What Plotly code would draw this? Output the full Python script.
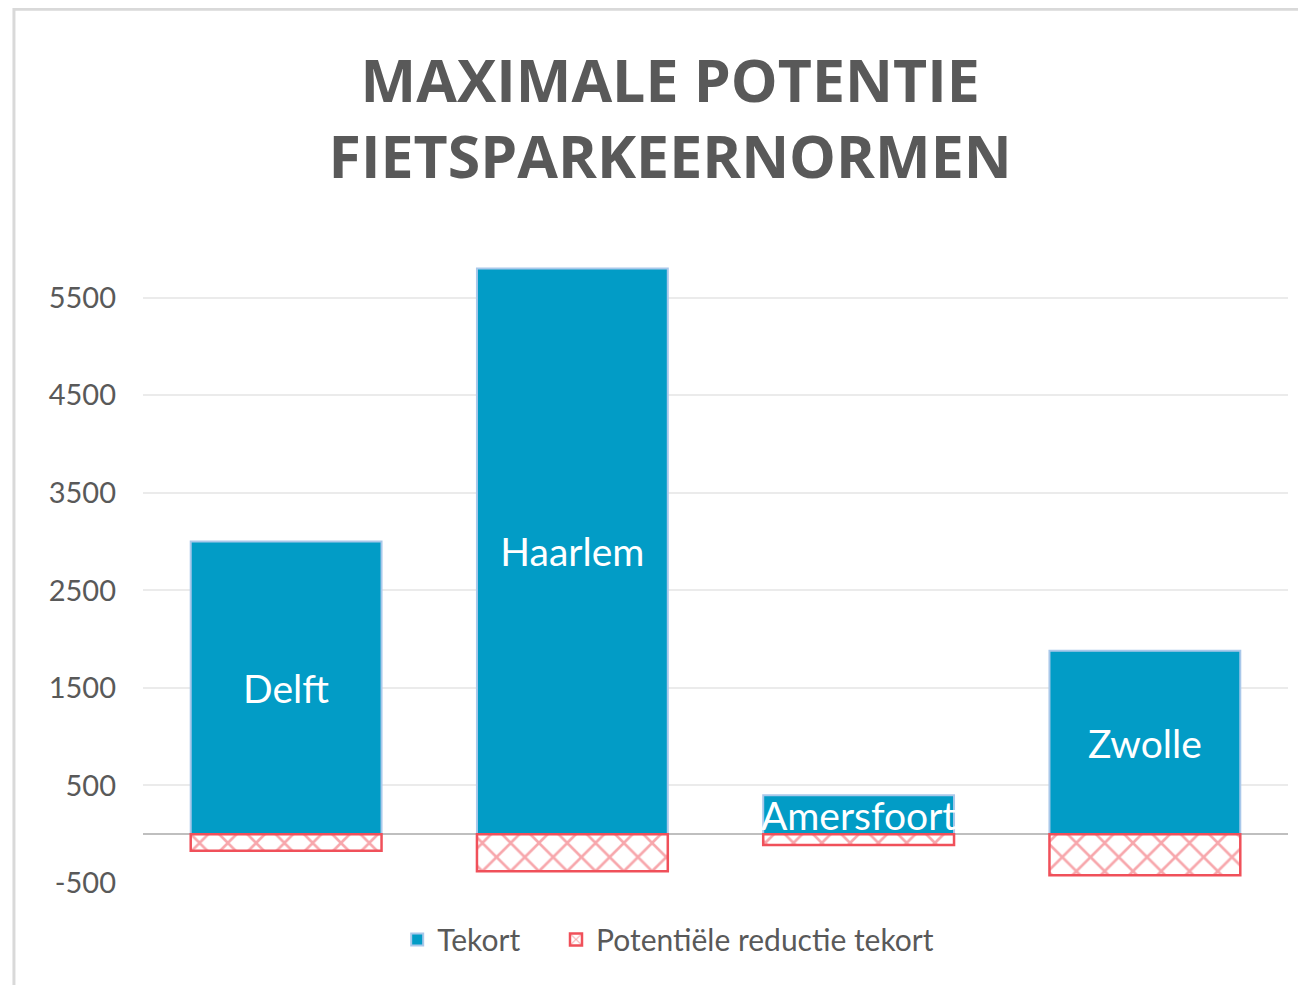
import plotly.graph_objects as go

cities = ["Delft", "Haarlem", "Amersfoort", "Zwolle"]
tekort = [3000, 5800, 400, 1880]
reductie = [-170, -380, -110, -420]
tick_vals = [-500, 500, 1500, 2500, 3500, 4500, 5500]
tick_text = ["-500", "500", "1500", "2500", "3500", "4500", "5500"]

BLUE = "#029CC6"
RED = "#F0505A"
GRAY = "#595959"
FONT = "Lato"

fig = go.Figure()
fig.add_trace(go.Bar(
    x=cities, y=tekort, name="Tekort", legend="legend",
    marker=dict(color=BLUE, line=dict(color="#A9C8EA", width=2)),
    text=cities, textposition="inside", insidetextanchor="middle",
    textfont=dict(color="white", size=39, family=FONT),
    constraintext="none", cliponaxis=False,
))
fig.add_trace(go.Bar(
    x=cities, y=reductie, name="Potentiële reductie tekort", legend="legend2",
    marker=dict(color="white", line=dict(color=RED, width=2.5),
                pattern=dict(shape="x", fgcolor=RED, bgcolor="white", size=20, solidity=0.25)),
))

legend_common = dict(orientation="h", xanchor="left", y=-0.048, yanchor="top",
                     font=dict(size=30, color=GRAY, family=FONT), bgcolor="rgba(0,0,0,0)")

fig.update_layout(
    barmode="relative", bargap=1/3,
    width=1306, height=985,
    paper_bgcolor="white", plot_bgcolor="white",
    margin=dict(l=135, r=26, t=241, b=110),
    font=dict(family=FONT, color=GRAY),
    uniformtext=dict(minsize=39, mode="show"),
    title=dict(text="<b>MAXIMALE POTENTIE<br>FIETSPARKEERNORMEN</b>",
               x=0.507, xanchor="center", y=0.905, yanchor="top",
               font=dict(family="Open Sans", size=59, color=GRAY)),
    showlegend=True,
    legend=dict(x=0.222, **legend_common),
    legend2=dict(x=0.3607, **legend_common),
    yaxis=dict(range=[-500, 6000], tickvals=tick_vals, ticktext=tick_text, showgrid=True,
               gridcolor="#EBEBEB", gridwidth=2, zeroline=True, zerolinecolor="#BFBFBF",
               zerolinewidth=2, tickfont=dict(size=29, color=GRAY, family=FONT),
               ticklabelstandoff=26, showline=False),
    xaxis=dict(showticklabels=False, showline=False, showgrid=False),
    shapes=[dict(type="rect", xref="paper", yref="paper",
                 x0=-0.1127, x1=1.03, y0=-0.2, y1=1.378,
                 line=dict(color="#D9D9D9", width=3), fillcolor="rgba(0,0,0,0)", layer="below")],
)

fig.write_html("out.html")
